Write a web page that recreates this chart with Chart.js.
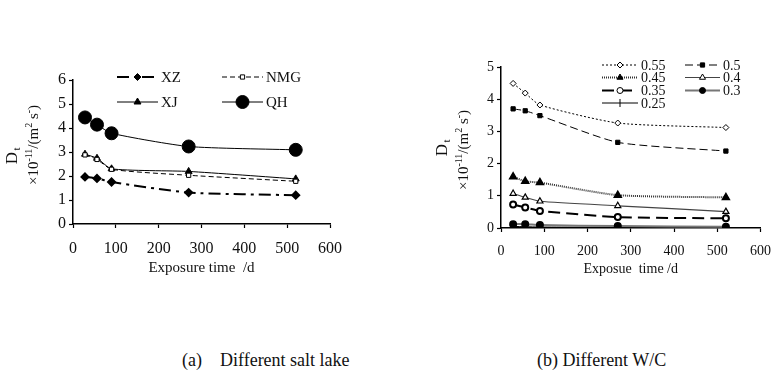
<!DOCTYPE html>
<html>
<head>
<meta charset="utf-8">
<script src="https://cdn.jsdelivr.net/npm/chart.js@4.4.1/dist/chart.umd.min.js"></script>
<style>
  body { margin: 0; background: #fff; width: 782px; height: 392px; position: relative; overflow: hidden; }
  .box { position: absolute; top: 0; width: 391px; height: 300px; }
  .cap { position: absolute; top: 350px; font: 18px "Liberation Serif", serif; color: #111; white-space: pre; }
</style>
</head>
<body>
<div class="box" style="left:0"><canvas id="chartA" width="391" height="300"></canvas></div>
<div class="box" style="left:391px"><canvas id="chartB" width="391" height="300"></canvas></div>
<div class="cap" style="left:182px">(a)    Different salt lake</div>
<div class="cap" style="left:537px">(b) Different W/C</div>
<script>
// exposure days (x) shared by both panels
const days = [28, 56, 90, 270, 520];

// (a) different salt lakes
const saltLakes = ["XZ", "NMG", "XJ", "QH"];
const xz  = [1.96, 1.90, 1.75, 1.31, 1.20];
const nmg = [2.88, 2.69, 2.28, 2.03, 1.78];
const xj  = [2.91, 2.74, 2.30, 2.19, 1.88];
const qh  = [4.44, 4.14, 3.78, 3.23, 3.09];

// (b) different W/C
const wcRatios = ["0.55", "0.5", "0.45", "0.4", "0.35", "0.3", "0.25"];
const wc055 = [4.49, 4.19, 3.82, 3.26, 3.12];
const wc050 = [3.70, 3.64, 3.49, 2.66, 2.39];
const wc045 = [1.59, 1.45, 1.41, 1.02, 0.95];
const wc040 = [1.07, 0.95, 0.83, 0.69, 0.51];
const wc035 = [0.73, 0.64, 0.53, 0.34, 0.30];
const wc030 = [0.12, 0.12, 0.09, 0.06, 0.04];
const wc025 = [0.05, 0.04, 0.03, 0.02, 0.01];

const xTicks = [0, 100, 200, 300, 400, 500, 600];
const yTicksA = [0, 1, 2, 3, 4, 5, 6];
const yTicksB = [0, 1, 2, 3, 4, 5];

const serif = '"Liberation Serif", "Times New Roman", serif';

function pts(vals) {
  return days.map((d, i) => ({ x: d, y: vals[i] }));
}

// unit text with real superscripts, drawn along the rotated axis
const unitParts = [["×10", 0], ["-11", 1], ["/(m", 0], ["2", 1], [" s", 0], ["-", 1], [")", 0]];

function drawUnit(ctx, cx, cy, size) {
  const sup = Math.round(size * 0.68);
  let total = 0;
  unitParts.forEach(p => {
    ctx.font = (p[1] ? sup : size) + "px " + serif;
    total += ctx.measureText(p[0]).width;
  });
  ctx.save();
  ctx.translate(cx, cy);
  ctx.rotate(-Math.PI / 2);
  ctx.textAlign = "left";
  ctx.textBaseline = "alphabetic";
  let x = -total / 2;
  unitParts.forEach(p => {
    ctx.font = (p[1] ? sup : size) + "px " + serif;
    ctx.fillText(p[0], x, p[1] ? size * 0.35 - size * 0.42 : size * 0.35);
    x += ctx.measureText(p[0]).width;
  });
  ctx.restore();
}

// legend drawn in two columns like the original
const legendPlugin = {
  id: "twoColLegend",
  afterDraw(chart, args, opts) {
    const ctx = chart.ctx;
    ctx.save();
    chart.data.datasets.forEach((ds, i) => {
      const p = opts.slots[i];
      ctx.strokeStyle = ds.borderColor;
      ctx.lineWidth = ds.borderWidth;
      ctx.setLineDash(ds.borderDash || []);
      ctx.beginPath();
      ctx.moveTo(p[0], p[2]);
      ctx.lineTo(p[1], p[2]);
      ctx.stroke();
      ctx.setLineDash([]);
      ctx.fillStyle = ds.pointBackgroundColor;
      ctx.strokeStyle = ds.pointBorderColor;
      ctx.lineWidth = 1;
      Chart.helpers.drawPoint(ctx, {
        pointStyle: ds.pointStyle, radius: ds.pointRadius,
        rotation: ds.pointRotation || 0, borderWidth: 1
      }, (p[0] + p[1]) / 2, p[2]);
      ctx.fillStyle = "#111";
      ctx.font = opts.font;
      ctx.textAlign = "left";
      ctx.textBaseline = "middle";
      ctx.fillText(ds.label, p[1] + 3, p[2] + 1);
    });
    // rotated y title: D with subscript t, then unit line
    const t = opts.ytitle;
    ctx.fillStyle = "#111";
    ctx.textAlign = "center";
    ctx.textBaseline = "middle";
    ctx.save();
    ctx.translate(t.dx, t.dy);
    ctx.rotate(-Math.PI / 2);
    ctx.font = "17px " + serif;
    ctx.fillText("D", -3, 0);
    ctx.font = "11px " + serif;
    ctx.fillText("t", 6, 4);
    ctx.restore();
    drawUnit(ctx, t.ux, t.uy, 15);
    ctx.restore();
  }
};

function axes(yMax, yTicks, yWidth, xHeight, xTitle, tickSize, labPad, titleSize, titlePad) {
  return {
    x: {
      type: "linear", min: 0, max: 600,
      afterBuildTicks: (s) => { s.ticks = xTicks.map(v => ({ value: v })); },
      afterFit: (s) => { s.height = xHeight; },
      border: { color: "#000", width: 1.5 },
      grid: { drawOnChartArea: false, tickLength: 4, color: "#000", tickWidth: 1.2 },
      ticks: { color: "#111", font: { family: serif, size: tickSize }, padding: labPad, maxRotation: 0 },
      title: { display: true, text: xTitle, color: "#111", font: { family: serif, size: titleSize }, padding: { top: 0, bottom: titlePad } }
    },
    y: {
      min: 0, max: yMax,
      afterBuildTicks: (s) => { s.ticks = yTicks.map(v => ({ value: v })); },
      afterFit: (s) => { s.width = yWidth; },
      border: { color: "#000", width: 1.5 },
      grid: { drawOnChartArea: false, tickLength: 4, color: "#000", tickWidth: 1.2 },
      ticks: { color: "#111", font: { family: serif, size: tickSize }, padding: 3 }
    }
  };
}

new Chart(document.getElementById("chartA"), {
  type: "line",
  data: {
    datasets: [
      { label: saltLakes[0], data: pts(xz), borderColor: "#000", borderWidth: 2, borderDash: [12, 5, 3, 5],
        pointStyle: "rectRot", pointRadius: 3.5, pointBackgroundColor: "#000", pointBorderColor: "#000" },
      { label: saltLakes[1], data: pts(nmg), borderColor: "#000", borderWidth: 1, borderDash: [5, 3],
        pointStyle: "rect", pointRadius: 3, pointBackgroundColor: "#fff", pointBorderColor: "#000" },
      { label: saltLakes[2], data: pts(xj), borderColor: "#000", borderWidth: 1,
        pointStyle: "triangle", pointRadius: 4, pointBackgroundColor: "#000", pointBorderColor: "#000" },
      { label: saltLakes[3], data: pts(qh), borderColor: "#000", borderWidth: 1,
        pointStyle: "circle", pointRadius: 6.5, pointBackgroundColor: "#000", pointBorderColor: "#000" }
    ]
  },
  options: {
    responsive: false, animation: false, tension: 0.2,
    layout: { padding: { left: 0, right: 61, top: 80, bottom: 0 } },
    plugins: {
      legend: { display: false }, tooltip: { enabled: false },
      twoColLegend: {
        font: "15px " + serif,
        slots: [[117, 158, 77], [222, 263, 77], [117, 158, 102], [222, 263, 102]],
        ytitle: { dx: 13, dy: 155, ux: 33, uy: 145 }
      }
    },
    scales: axes(6, yTicksA, 73, 76, "Exposure time  /d", 16, 11, 15, 23)
  },
  plugins: [legendPlugin]
});

new Chart(document.getElementById("chartB"), {
  type: "line",
  data: {
    datasets: [
      { label: wcRatios[0], data: pts(wc055), borderColor: "#000", borderWidth: 1, borderDash: [2, 2],
        pointStyle: "rectRot", pointRadius: 3, pointBackgroundColor: "#fff", pointBorderColor: "#000" },
      { label: wcRatios[1], data: pts(wc050), borderColor: "#000", borderWidth: 1, borderDash: [8, 4],
        pointStyle: "rect", pointRadius: 3, pointBackgroundColor: "#000", pointBorderColor: "#000" },
      { label: wcRatios[2], data: pts(wc045), borderColor: "#333", borderWidth: 2, borderDash: [1, 1],
        pointStyle: "triangle", pointRadius: 3.5, pointBackgroundColor: "#000", pointBorderColor: "#000" },
      { label: wcRatios[3], data: pts(wc040), borderColor: "#444", borderWidth: 1.2,
        pointStyle: "triangle", pointRadius: 3.5, pointBackgroundColor: "#fff", pointBorderColor: "#000" },
      { label: wcRatios[4], data: pts(wc035), borderColor: "#000", borderWidth: 2, borderDash: [12, 6],
        pointStyle: "circle", pointRadius: 3, pointBackgroundColor: "#fff", pointBorderColor: "#000" },
      { label: wcRatios[5], data: pts(wc030), borderColor: "#777", borderWidth: 2,
        pointStyle: "circle", pointRadius: 3, pointBackgroundColor: "#000", pointBorderColor: "#000" },
      { label: wcRatios[6], data: pts(wc025), borderColor: "#000", borderWidth: 1,
        pointStyle: "line", pointRotation: 90, pointRadius: 4, pointBackgroundColor: "#000", pointBorderColor: "#000" }
    ]
  },
  options: {
    responsive: false, animation: false, tension: 0.2,
    layout: { padding: { left: 0, right: 16, top: 67, bottom: 0 } },
    plugins: {
      legend: { display: false }, tooltip: { enabled: false },
      twoColLegend: {
        font: "14px " + serif,
        slots: [[211, 247, 65], [294, 329, 65], [211, 247, 77.5], [294, 329, 77.5],
                [211, 247, 90.5], [294, 329, 90.5], [211, 247, 103]],
        ytitle: { dx: 52, dy: 147, ux: 72, uy: 150 }
      }
    },
    scales: axes(5, yTicksB, 110, 72, "Exposue  time /d", 14, 11, 14, 22)
  },
  plugins: [legendPlugin]
});
</script>
</body>
</html>
